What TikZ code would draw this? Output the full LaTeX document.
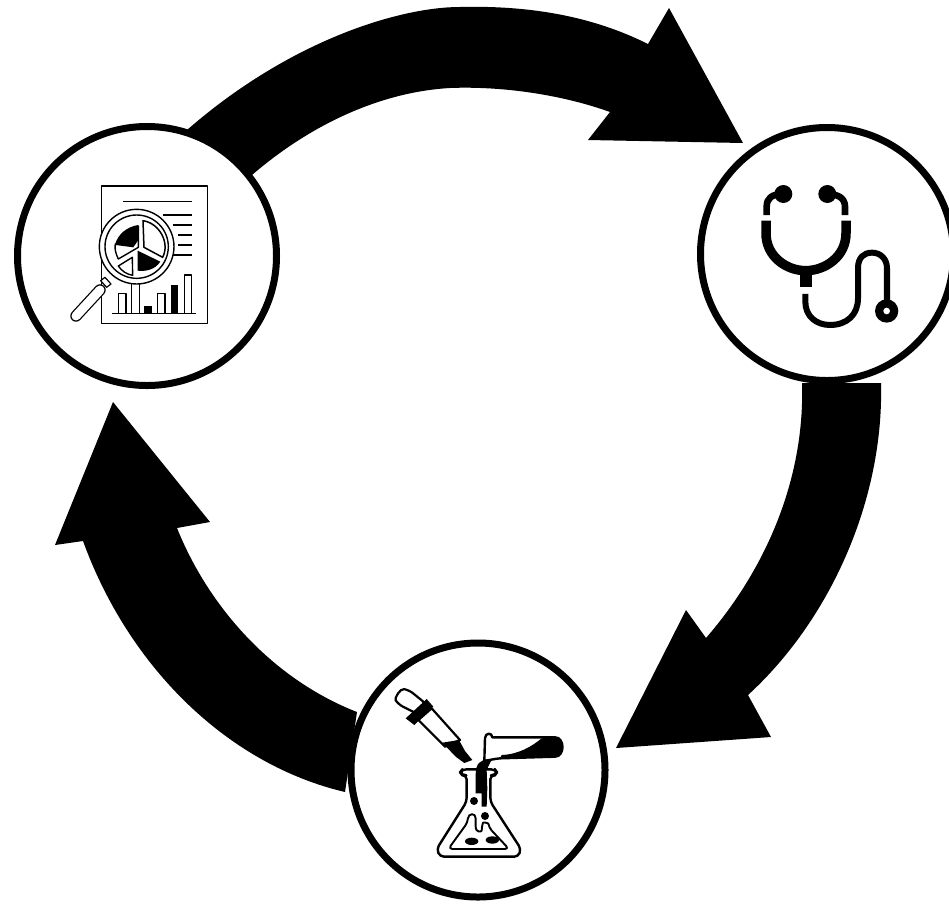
\documentclass[tikz,border=0pt]{standalone}
\tikzset{
  ring/.style={draw=black,fill=white,line width=7pt},
  band/.style={fill=black},
  iconscope/.style={x=0.3333pt,y=-0.3333pt,line join=round},
  ol/.style={draw=black,line width=1.1pt,fill=white},
  thinl/.style={draw=black,line width=1.1pt},
}
\begin{document}
\begin{tikzpicture}[x=1pt,y=-1pt]
\useasboundingbox (0,0) rectangle (949,903);
\fill[white] (0,0) rectangle (949,903);
% arrows
\fill[band] (187,130) .. controls (290,40) and (400,7) .. (460,7)
  .. controls (540,5) and (600,20) .. (648,44) -- (669,8) -- (743,143) -- (588,140) -- (610,112)
  .. controls (560,94) and (500,86) .. (450,88)
  .. controls (380,92) and (310,125) .. (252,175) -- cycle;
\fill[band] (881,383) .. controls (884,500) and (830,620) .. (748,695) -- (771,737) -- (616,748) -- (686,610) -- (706,638)
  .. controls (765,570) and (805,480) .. (802,383) -- cycle;
\fill[band] (345,792) .. controls (230,765) and (130,670) .. (83,541) -- (55,545) -- (113,402) -- (210,522) -- (177,528)
  .. controls (210,610) and (275,680) .. (357,712) -- cycle;
% circles
\node[circle,ring,minimum size=259pt,inner sep=0pt] (report) at (147,256) {};
\node[circle,ring,minimum size=253pt,inner sep=0pt] (doctor) at (827,254) {};
\node[circle,ring,minimum size=254pt,inner sep=0pt] (lab) at (478,770) {};
% report icon
\begin{scope}[shift={(50,160)},iconscope]
  \draw[ol,line width=1.3pt] (155,78) rectangle (473,490);
  \foreach \a/\b in {220/125,340/165,370/195,385/225,385/255,365/285}
    \draw[thinl,line width=1.4pt] (\a,\b) -- (425,\b);
  \draw[thinl,line width=1.6pt] (185,461) -- (437,461);
  \draw[thinl,line width=1.3pt] (205,461) |- (228,400) -- (228,461);
  \draw[thinl,line width=1.3pt] (245,461) |- (268,370) -- (268,461);
  \fill (283,461) rectangle (307,437);
  \draw[thinl,line width=1.3pt] (323,461) |- (345,400) -- (345,461);
  \fill (362,461) rectangle (385,375);
  \draw[thinl,line width=1.3pt] (403,461) |- (425,345) -- (425,461);
  % handle
  \draw[ol,line width=1.2pt] (165,352) -- (183,372) -- (170,382) -- (152,362) -- cycle;
  \draw[line width=11.5pt,line cap=round] (150,390) -- (78,468);
  \draw[white,line width=9pt,line cap=round] (150,390) -- (78,468);
  % lens
  \draw[ol,line width=1.4pt] (260,260) circle (112);
  \draw[thinl,line width=1.4pt] (260,260) circle (95);
  % pie
  \draw[ol,line width=1.5pt] (279,182) .. controls (330,190) and (360,250) .. (338,292) -- (282,262) -- cycle;
  \fill (265,197) .. controls (230,203) and (205,225) .. (197,255) -- (250,262) -- (265,240) -- cycle;
  \draw[thinl,line width=1.4pt] (265,197) -- (265,262) -- (205,297) .. controls (192,270) and (195,255) .. (197,250);
  \draw[thinl,line width=1.4pt] (265,197) .. controls (230,203) and (205,225) .. (197,255);
  \fill (263,272) -- (331,305) .. controls (315,330) and (285,335) .. (263,332) -- cycle;
  \draw[thinl,line width=1.4pt] (205,318) -- (247,292) -- (248,346) .. controls (230,343) and (215,333) .. (205,318) -- cycle;
\end{scope}
% stethoscope icon
\begin{scope}[shift={(740,170)},iconscope]
  \fill (130,72) circle (27);
  \fill (262,72) circle (27);
  \draw[line width=6.6pt] (130,72) .. controls (95,72) and (80,85) .. (80,110) -- (80,135);
  \draw[line width=6.6pt] (262,72) .. controls (295,72) and (315,85) .. (315,110) -- (315,135);
  \draw[line width=9.5pt] (78,152) -- (78,190) .. controls (78,260) and (140,302) .. (197,302)
     .. controls (255,302) and (318,260) .. (318,190) -- (318,152);
  \fill (180,310) -- (215,310) -- (215,352) -- (180,352) -- cycle;
  \draw[line width=6pt] (196,372) -- (196,395) .. controls (196,440) and (230,465) .. (270,465)
     .. controls (320,465) and (354,435) .. (354,385) -- (354,295)
     .. controls (354,262) and (372,248) .. (396,248)
     .. controls (420,248) and (441,265) .. (441,295) -- (441,400);
  \fill (440,423) circle (35);
  \fill[white] (440,423) circle (10);
\end{scope}
% lab icon
\begin{scope}[shift={(385,675)},iconscope]
  % dropper
  \draw[draw=black,line width=2.2pt,fill=white,rounded corners=5pt] (100,118) -- (40,88) .. controls (28,70) and (45,40) .. (72,45) -- (125,88) -- cycle;
  \draw[draw=black,line width=2.2pt,fill=white] (100,135) -- (140,100) -- (225,195) -- (180,215) -- cycle;
  \fill (62,130) -- (125,72) -- (145,95) -- (88,150) -- cycle;
  \fill (172,203) -- (222,195) -- (240,228) -- (262,255) -- (238,264) -- (212,245) -- cycle;
  % test tube
  \draw[draw=black,line width=2.4pt,fill=white] (298,258) -- (300,190) .. controls (300,172) and (322,172) .. (322,187)
     -- (510,187) .. controls (540,187) and (540,245) .. (510,245) -- (345,250) .. controls (325,252) and (315,255) .. (298,258);
  \fill (515,187) .. controls (540,187) and (540,245) .. (510,245) -- (345,250) -- (350,240)
     .. controls (400,238) and (440,215) .. (470,190) -- cycle;
  % flask
  \draw[draw=black,line width=2.4pt,fill=white,rounded corners=4pt] (245,301) -- (232,301) -- (225,292) -- (232,283) -- (330,283) -- (336,292) -- (330,301) -- (316,301)
     -- (316,380) -- (408,522) -- (400,545) -- (165,545) -- (155,522) -- (245,380) -- cycle;
  \draw[draw=black,line width=1.9pt,rounded corners=4pt] (190,522) -- (248,442) .. controls (250,415) and (272,412) .. (272,442)
     .. controls (272,475) and (290,470) .. (290,455) .. controls (295,440) and (310,445) .. (312,458) -- (372,522) -- cycle;
  % stream
  \fill (312,252) .. controls (285,255) and (272,265) .. (272,300) -- (272,355) -- (290,355) -- (290,395) -- (305,395) -- (307,340) -- (305,285) -- (318,258) -- cycle;
  \fill (267,378) circle (12);
  \fill (300,423) circle (12);
  \fill (260,499) ellipse (20 and 11);
  \fill (322,495) ellipse (20 and 11);
\end{scope}
\end{tikzpicture}
\end{document}
